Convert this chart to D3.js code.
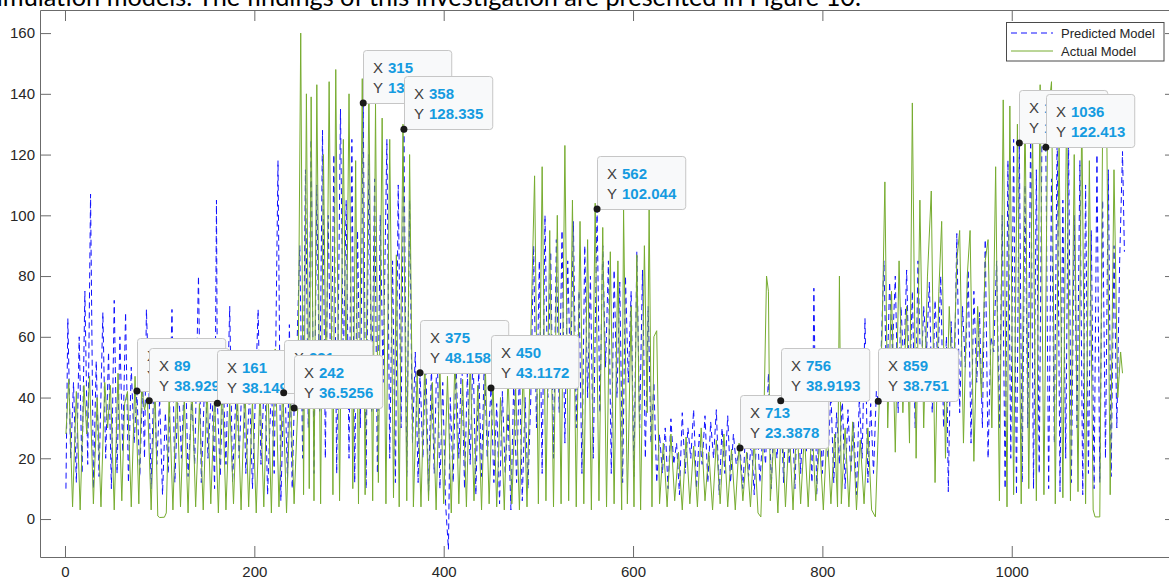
<!DOCTYPE html>
<meta charset="utf-8" />
<style>
  body { margin: 0; background: #fff; }
  svg { display: block; font-family: "Liberation Sans", Arial, sans-serif; }
  .axis path, .axis line { stroke: #6b6b6b; stroke-width: 1; }
  .axis text { fill: #262626; font-size: 15px; font-family: "Liberation Sans", Arial, sans-serif; }
</style>
<svg width="1169" height="580"></svg>
<script src="https://d3js.org/d3.v7.min.js"></script>
<script>
// [index, value] turning points
const predicted = [
  [1,10],[3,66],[6,20],[9,45],[12,12],[15,60],[18,15],[21,75],[24,18],[27,107],[30,10],[33,52],[36,14],[40,68],[43,20],[46,55],[49,10],[52,72],[55,15],[58,60],[61,22],[64,68],[67,12],[70,50],[73,25],[76,42.1],[79,14],[82,45],[84,20],[86,69],[89,38.9],[91,10],[94,48],[97,18],[100,40],[103,8],[106,35],[109,15],[113,69],[116,12],[120,45],[123,20],[127,55],[130,14],[134,40],[137,18],[141,80],[144,12],[148,50],[151,20],[155,45],[158,10],[160,105],[161,38.1],[164,14],[167,48],[170,18],[174,70],[177,12],[181,45],[184,20],[188,55],[191,15],[195,42],[198,10],[204,69],[207,18],[211,50],[214,8],[218,45],[221,15],[225,118],[228,6],[231,41.6],[232,50],[235,12],[237,64],[240,10],[242,36.5],[244,45],
  [248,90],[251,20],[254,115],[257,30],[260,125],[263,15],[266,110],[269,35],[272,128],[275,20],[278,100],[281,40],[284,120],[287,15],[291,135],[294,50],[297,105],[300,20],[303,125],[306,12],[309,95],[312,30],[315,137],[318,10],[321,120],[324,35],[327,112],[330,15],[333,100],[336,45],[340,125],[343,20],[346,85],[349,12],[352,110],[355,30],[358,128.3],[361,14],[364,105],[367,25],
  [370,55],[373,12],[375,48.2],[378,20],[381,55],[384,8],[387,50],[390,15],[393,58],[396,10],[399,45],[402,5],[405,-10],[407,40],[410,12],[413,52],[416,20],[419,55],[422,10],[425,48],[428,18],[431,56],[434,8],[437,50],[440,14],[443,54],[446,20],[450,43.1],[453,12],[456,38],[459,5],[462,42],[465,15],[468,35],[471,3],[474,45],[477,12],[480,50],[483,6],[486,40],[489,10],
  [492,40],[495,90],[498,30],[501,85],[504,15],[507,100],[510,40],[513,88],[516,20],[519,92],[522,35],[525,95],[528,25],[531,85],[534,45],[537,98],[540,30],[543,75],[546,15],[549,90],[552,40],[555,80],[558,20],[562,102],[565,35],[568,90],[571,50],[574,85],[577,15],[580,82],[583,40],[586,78],[589,12],[592,80],[595,45],[598,75],[601,14],[604,88],[607,30],[610,82],[613,20],[616,70],[619,25],[622,45],[625,12],
  [628,28],[631,15],[634,30],[637,10],[640,33],[643,18],[646,25],[649,8],[652,35],[655,15],[658,30],[661,20],[664,36],[667,10],[670,28],[673,18],[676,34],[679,12],[682,32],[685,20],[688,36],[691,8],[694,30],[697,15],[700,34],[703,12],[706,28],[709,18],[713,23.4],[716,10],[719,30],[722,14],[725,26],[728,8],[731,32],[734,12],[737,28],[740,18],[743,48],[746,10],[749,35],[752,20],[756,38.9],[759,12],[762,40],[765,18],[768,36],[771,10],[774,42],[777,15],[780,38],[783,22],[786,35],[789,12],[791,76],[794,8],[797,40],[800,15],[803,38],[806,20],[809,42],[812,12],[815,35],[818,18],[821,40],[824,10],[827,36],[830,15],[833,32],[836,8],[839,40],[842,20],[845,66],[848,12],[851,38],[854,15],[857,42],[859,38.8],
  [862,55],[865,85],[868,40],[871,78],[874,55],[877,80],[880,35],[883,70],[886,50],[889,82],[892,40],[895,75],[898,30],[901,85],[904,45],[907,70],[910,55],[913,78],[916,35],[919,72],[922,50],[925,80],[928,30],[931,60],[933,9],[936,65],[939,40],[942,94],[945,35],[948,70],[951,50],[954,82],[957,25],[960,75],[963,45],[966,68],[969,30],[972,92],[975,20],[978,60],[981,55],[984,85],[987,30],[990,100],
  [993,10],[996,118],[999,20],[1002,125],[1005,8],[1008,123.8],[1011,12],[1014,110],[1017,30],[1020,128],[1023,10],[1026,115],[1029,15],[1032,130],[1036,122.4],[1039,10],[1042,112],[1045,25],[1048,128],[1051,9],[1054,105],[1057,20],[1060,125],[1063,12],[1066,100],[1069,30],[1072,118],[1075,8],[1078,110],[1081,15],[1084,95],[1087,10],[1090,120],[1093,12],[1096,105],[1099,20],[1102,115],[1105,14],[1108,90],[1111,30],[1114,85],[1117,121],[1119,88]
];

const actual = [
  [1,28],[4,46],[8,4],[12,42],[16,3],[20,44],[23,28],[26,47],[30,5],[34,40],[38,4],[42,45],[45,30],[48,44],[52,3],[56,48],[60,6],[63,38],[66,42],[70,4],[74,47],[78,5],[81,44],[84,36],[87,40],[91,3],[95,45],[98,1],[100,0.5],[105,0.6],[107,2],[110,41],[114,3],[118,44],[122,4],[126,40],[130,2],[134,45],[138,4],[142,38],[146,3],[150,44],[154,5],[158,41],[162,2],[166,46],[170,3],[174,38],[178,5],[182,42],[186,3],[190,44],[194,4],[198,39],[202,2],[206,43],[210,4],[214,48],[218,2],[222,56],[226,4],[230,44],[234,2],[238,42],[242,5],[246,38],
  [249,160],[252,8],[255,140],[258,10],[260,139],[263,6],[266,143],[270,5],[273,120],[276,40],[279,144],[283,8],[286,148],[290,6],[294,125],[297,45],[300,140],[304,10],[307,118],[310,5],[314,145],[317,8],[321,142],[325,6],[328,137],[331,12],[335,132],[339,5],[343,125],[347,7],[350,87],[353,4],[357,130],[361,6],[364,120],[368,4],
  [372,48],[376,4],[380,52],[384,6],[388,45],[392,3],[396,50],[400,5],[404,47],[408,2],[412,55],[416,5],[420,46],[424,4],[428,52],[432,6],[436,44],[440,3],[444,50],[448,5],[452,46],[456,4],[460,40],[464,3],[468,48],[472,5],[476,43],[480,3],[484,50],[488,4],
  [492,60],[496,113],[500,5],[504,116],[508,6],[512,95],[516,4],[520,100],[524,5],[528,123],[532,6],[536,105],[540,4],[544,98],[548,5],[552,92],[556,3],[560,104],[564,6],[568,96],[572,4],[576,88],[580,5],[584,85],[588,3],[590,102],[594,5],[598,70],[601,4],[604,87],[608,3],[612,90],[615,35],[617,102],[620,4],[622,60],[625,62],[628,5],
  [632,25],[636,4],[640,28],[644,6],[648,22],[652,3],[656,27],[660,5],[664,24],[668,4],[672,30],[676,6],[680,22],[684,3],[688,26],[692,5],[696,28],[700,4],[704,23],[708,3],[712,25],[716,6],[720,22],[724,4],[728,26],[732,2],[735,0.7],[738,30],[741,80],[743,75],[745,6],[749,28],[753,2],[757,35],[761,4],[765,30],[769,3],[773,34],[777,5],[781,28],[785,4],[789,32],[793,6],[797,26],[801,3],[805,30],[809,5],[813,28],[816,4],[818,80],[820,5],[824,30],[828,4],[832,32],[836,3],[840,26],[844,5],[848,30],[852,3],[856,0.7],[860,38],
  [863,60],[866,111],[869,30],[873,75],[877,22],[881,85],[885,35],[889,70],[892,25],[895,137],[899,20],[903,105],[907,30],[911,80],[915,108],[919,12],[923,75],[926,98],[930,20],[934,70],[938,40],[942,85],[945,95],[949,25],[953,80],[956,95],[960,19],[964,70],[968,40],[972,85],[975,92],[979,30],[983,116],[987,6],[991,138],
  [995,4],[998,136],[1002,8],[1006,130],[1010,5],[1014,135],[1018,10],[1022,128],[1026,6],[1030,143],[1034,8],[1038,132],[1042,144],[1046,5],[1050,125],[1054,7],[1058,138],[1062,6],[1066,120],[1070,9],[1074,134],[1078,5],[1082,118],[1086,3],[1088,0.7],[1093,0.7],[1096,130],[1100,140],[1104,8],[1108,115],[1112,40],[1115,55],[1117,48]
];

// data tips (in drawing order)
const tipX = [76, 89, 161, 231, 242, 315, 358, 375, 450, 562, 713, 756, 859, 1008, 1036];
const tipY = [42.1433, 38.929, 38.149, 41.6072, 36.5256, 136.961, 128.335, 48.1587, 43.1172, 102.044, 23.3878, 38.9193, 38.751, 123.812, 122.413];
const tipYLabel = ['42.1433', '38.929', '38.149', '41.6072', '36.5256', '136.961', '128.335', '48.1587', '43.1172', '102.044', '23.3878', '38.9193', '38.751', '123.812', '122.413'];

const xTicks = [0, 200, 400, 600, 800, 1000];
const yTicks = [0, 20, 40, 60, 80, 100, 120, 140, 160];
const seriesNames = ['Predicted Model', 'Actual Model'];
const caption = 'simulation models. The findings of this investigation are presented in Figure 10.';

const svg = d3.select('svg');

const x = d3.scaleLinear().domain([-26.4, 1173.5]).range([40, 1176]);
const y = d3.scaleLinear().domain([-12.5, 167.6]).range([557, 10]);

// caption text from the page above, cut by the image edge
svg.append('text')
  .attr('x', 861)
  .attr('y', 6)
  .attr('text-anchor', 'end')
  .attr('font-family', 'Lato, "Open Sans", sans-serif')
  .attr('font-size', 25.3)
  .attr('fill', '#000')
  .text(caption);

svg.append('defs').append('clipPath').attr('id', 'plot')
  .append('rect').attr('x', 40).attr('y', 10).attr('width', 1136).attr('height', 547);

const line = d3.line().x(d => x(d[0])).y(d => y(d[1]));

const plot = svg.append('g').attr('clip-path', 'url(#plot)');

plot.append('path')
  .datum(predicted)
  .attr('fill', 'none')
  .attr('stroke', '#1010ff')
  .attr('stroke-width', 1)
  .attr('stroke-dasharray', '6,4')
  .attr('d', line);

plot.append('path')
  .datum(actual)
  .attr('fill', 'none')
  .attr('stroke', '#77ac30')
  .attr('stroke-width', 1)
  .attr('d', line);

// axes (ticks point inward, MATLAB style)
svg.append('g').attr('class', 'axis')
  .attr('transform', 'translate(0,557)')
  .call(d3.axisBottom(x).tickValues(xTicks).tickFormat(d3.format('d'))
    .tickSizeInner(-11).tickSizeOuter(0).tickPadding(9));

svg.append('g').attr('class', 'axis')
  .attr('transform', 'translate(40,0)')
  .call(d3.axisLeft(y).tickValues(yTicks).tickFormat(d3.format('d'))
    .tickSizeInner(-11).tickSizeOuter(0).tickPadding(5));

svg.append('g').attr('class', 'axis')
  .attr('transform', 'translate(0,10)')
  .call(d3.axisTop(x).tickValues(xTicks).tickSizeInner(-11).tickSizeOuter(0).tickFormat(''));

svg.append('g').attr('class', 'axis')
  .attr('transform', 'translate(1176,0)')
  .call(d3.axisRight(y).tickValues(yTicks).tickSizeInner(-11).tickSizeOuter(0).tickFormat(''));

// data tips
const tips = svg.append('g');
tipX.forEach(function (tx, i) {
  const px = x(tx);
  const py = y(tipY[i]);
  const g = tips.append('g').attr('transform', 'translate(' + Math.round(px) + ',' + Math.round(py - 53) + ')');
  const box = g.append('rect')
    .attr('x', 0.5).attr('y', 0.5)
    .attr('height', 53).attr('rx', 3)
    .attr('fill', '#f8f9fa')
    .attr('stroke', '#c6c6c6');
  g.append('text').attr('x', 10).attr('y', 23).attr('font-size', 15).attr('fill', '#404040').text('X');
  g.append('text').attr('x', 10).attr('y', 43).attr('font-size', 15).attr('fill', '#404040').text('Y');
  const v1 = g.append('text').attr('x', 25).attr('y', 23).attr('font-size', 15)
    .attr('font-weight', 'bold').attr('fill', '#159be0').text(String(tx));
  const v2 = g.append('text').attr('x', 25).attr('y', 43).attr('font-size', 15)
    .attr('font-weight', 'bold').attr('fill', '#159be0').text(tipYLabel[i]);
  const w = Math.max(v1.node().getComputedTextLength(), v2.node().getComputedTextLength()) + 34;
  box.attr('width', w);
  g.append('circle').attr('cx', px - Math.round(px)).attr('cy', 53 + (py - Math.round(py)))
    .attr('r', 3.5).attr('fill', '#1a1a1a');
});

// legend
const legend = svg.append('g');
legend.append('rect')
  .attr('x', 1006.5).attr('y', 22.5).attr('width', 157.5).attr('height', 38.5)
  .attr('fill', '#fff').attr('stroke', '#4a4a4a');
const styles = [
  { color: '#1010ff', dash: '6,4' },
  { color: '#77ac30', dash: null }
];
seriesNames.forEach(function (name, i) {
  const ly = 33 + i * 18;
  legend.append('line')
    .attr('x1', 1011).attr('x2', 1053).attr('y1', ly).attr('y2', ly)
    .attr('stroke', styles[i].color).attr('stroke-width', 1)
    .attr('stroke-dasharray', styles[i].dash);
  legend.append('text')
    .attr('x', 1061).attr('y', ly + 5)
    .attr('font-size', 13).attr('fill', '#262626')
    .text(name);
});
</script>
